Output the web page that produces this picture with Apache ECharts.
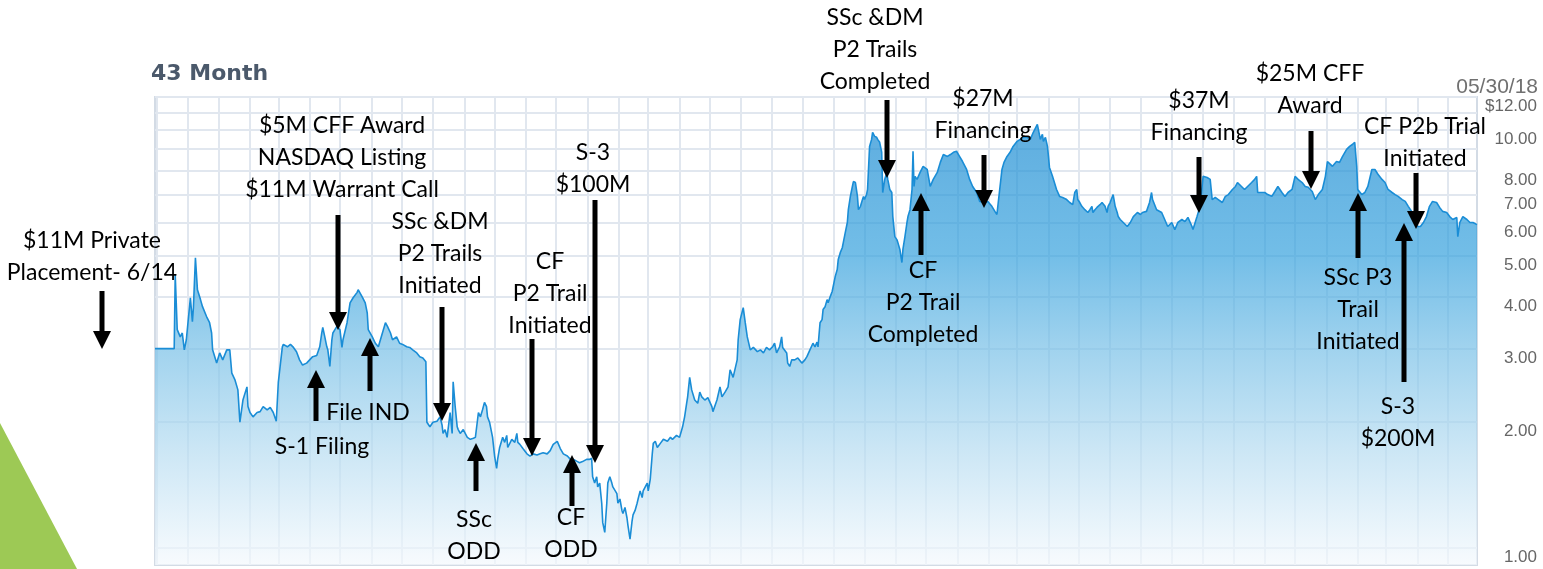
<!DOCTYPE html>
<html><head><meta charset="utf-8">
<script src="https://cdn.jsdelivr.net/npm/echarts@6/dist/echarts.min.js"></script>
<style>html,body{margin:0;padding:0;background:#fff}#c{width:1543px;height:569px}</style>
</head><body><div id="c"></div>
<script>
const chartTitle = '43 Month';
const endLabel = '05/30/18';
const startDate = Date.UTC(2014, 9, 30);
const endDate = Date.UTC(2018, 4, 30);

// trading-day offsets (days after startDate) and closing prices ($)
const dayOffsets = [0,10,19,20,22,25,27,29,31,35,37,38,40,42,45,47,51,54,56,57,61,64,67,71,74,76,79,82,84,87,91,92,94,97,101,104,107,111,114,117,120,122,126,127,131,134,137,140,143,146,150,153,156,160,163,165,166,168,170,171,173,175,176,178,180,183,185,186,190,193,196,200,201,205,208,210,211,215,218,221,225,228,230,233,235,239,242,245,249,252,255,259,262,265,268,
269,272,275,279,282,284,285,287,289,292,294,295,297,299,300,302,305,309,312,315,317,320,322,324,326,328,329,331,334,336,338,339,341,344,346,348,349,353,356,358,359,361,364,368,371,374,378,381,384,388,391,394,398,401,404,408,411,414,418,420,423,427,430,432,433,435,437,438,440,442,443,445,447,448,450,452,453,457,458,460,462,463,465,467,468,470,472,473,475,477,478,480,482,483,487,488,490,492,493,495,497,500,503,507,510,512,516,519,522,524,526,527,529,531,534,537,
539,541,544,547,551,552,556,559,561,564,567,569,572,576,577,579,582,584,586,589,592,596,599,602,605,608,611,613,615,618,620,621,625,626,628,630,633,636,640,643,645,648,651,653,655,656,
658,660,661,663,665,666,668,670,671,673,675,676,678,680,681,683,685,686,688,690,691,693,695,696,698,700,701,702,704,705,707,709,710,712,714,715,717,719,720,722,724,725,727,729,730,732,734,735,737,739,740,742,744,745,747,749,750,751,752,
754,757,760,764,767,770,774,777,780,784,787,790,793,796,799,803,806,809,813,816,821,824,828,831,833,835,838,840,843,846,849,853,856,859,863,866,869,873,874,876,878,879,881,883,884,885,888,892,895,898,902,905,908,910,912,913,915,917,920,923,925,927,928,930,932,935,937,938,940,942,943,945,948,950,952,953,955,958,962,965,968,972,975,977,981,984,986,987,991,996,999,1002,1006,1009,1012,1016,1019,1022,1026,1027,1031,1034,
1037,1041,1044,1046,1049,1052,1056,1059,1062,1066,1069,1071,1075,1078,1081,1085,1088,1090,1091,1095,1098,1101,1105,1108,1111,1115,1118,1121,1125,1128,1131,1135,1138,1141,1145,1148,1151,1155,1158,1160,1163,1165,1169,1172,1175,1179,1182,1185,1187,1189,1190,1194,1197,1200,1204,1207,1210,1214,1217,1220,1224,1227,1230,1234,1237,1240,1244,1245,1249,1252,1255,1258,1261,1264,1268,1271,1274,1278,1281,1284,1288,1289,1291,1294,1298,1301,1304,1308];

const prices = [3.00,3.00,3.00,4.51,3.33,3.20,3.27,2.98,3.15,3.97,3.48,3.76,4.95,4.15,3.93,3.78,3.58,3.46,3.27,2.98,2.77,2.93,2.82,2.98,2.98,2.62,2.53,2.39,2.00,2.26,2.43,2.18,2.11,2.06,2.11,2.12,2.18,2.14,2.17,2.11,2.01,2.49,3.03,3.07,3.03,3.07,3.02,2.95,2.82,2.74,2.77,2.82,2.87,2.89,3.03,3.27,3.37,3.20,3.03,2.98,2.72,3.15,3.27,3.33,3.39,3.33,3.02,3.15,3.46,3.86,3.97,4.09,4.15,3.99,3.86,3.65,3.33,3.20,3.09,3.03,3.27,3.46,3.39,3.27,3.15,3.20,3.09,3.07,3.03,3.02,2.98,2.93,2.87,2.85,2.79,
2.00,1.95,2.00,2.01,2.06,1.97,1.88,1.92,1.84,2.11,1.88,2.50,2.18,1.95,1.92,1.88,1.92,1.84,1.82,1.83,1.84,2.11,2.06,2.14,2.23,2.18,2.06,2.00,1.84,1.66,1.55,1.63,1.74,1.84,1.79,1.86,1.74,1.82,1.79,1.88,1.79,1.77,1.73,1.68,1.66,1.68,1.67,1.68,1.69,1.68,1.71,1.77,1.80,1.73,1.68,1.66,1.63,1.63,1.61,1.60,1.61,1.63,1.63,1.64,1.48,1.43,1.48,1.40,1.43,1.28,1.15,1.09,1.28,1.43,1.48,1.43,1.40,1.35,1.28,1.31,1.23,1.21,1.25,1.18,1.13,1.05,1.16,1.20,1.23,1.28,1.31,1.37,1.32,1.37,1.43,1.37,1.46,1.68,1.78,1.80,1.74,1.78,1.82,1.80,1.84,1.82,1.86,1.84,1.95,2.06,2.22,2.30,2.56,2.39,2.26,2.22,
2.36,2.30,2.26,2.29,2.18,2.12,2.26,2.43,2.30,2.36,2.43,2.67,2.56,2.82,3.15,3.52,3.76,3.46,3.20,2.98,3.02,2.95,2.98,2.93,3.02,2.98,3.03,3.09,2.93,3.03,3.20,3.02,2.93,2.77,2.72,2.82,2.82,2.85,2.77,2.82,2.87,2.98,3.09,3.03,3.11,3.03,
3.46,3.52,3.72,3.78,3.93,3.86,3.99,4.11,4.15,4.46,4.64,4.90,5.09,5.23,5.38,5.69,6.01,6.45,6.94,7.33,7.53,7.49,6.94,6.45,6.57,6.82,6.94,6.82,7.01,7.21,9.14,9.50,9.88,9.66,9.61,9.50,9.35,8.85,7.09,7.62,7.92,7.62,7.21,7.09,6.21,5.56,5.47,5.38,5.18,4.82,5.18,5.56,6.01,6.21,6.45,7.21,8.90,7.33,7.75,
7.62,7.92,8.19,8.05,7.33,7.62,7.92,8.37,8.74,8.65,8.74,8.85,8.90,8.65,8.41,8.05,7.62,7.33,7.09,6.75,6.71,6.75,6.57,6.39,6.28,6.94,8.05,8.37,8.65,8.85,9.14,9.40,9.50,9.61,9.61,9.50,9.88,10.32,10.04,9.50,9.77,9.40,9.61,9.14,8.65,8.14,7.75,7.21,6.94,6.90,6.82,6.71,6.63,7.09,7.21,6.82,6.71,6.57,6.45,6.35,6.45,6.57,6.35,6.45,6.53,6.63,6.71,6.75,6.57,6.35,6.57,6.71,7.01,6.57,6.35,6.21,6.11,6.01,5.88,6.01,6.21,6.35,6.28,6.35,6.39,6.71,7.09,6.82,6.45,6.35,6.11,5.88,6.01,5.78,6.01,6.11,6.04,6.18,5.88,5.78,6.21,6.57,
7.75,7.70,7.62,6.82,6.90,6.82,6.71,6.94,7.01,7.21,7.33,7.49,7.33,7.21,7.33,7.49,7.62,7.75,7.09,7.09,7.09,7.01,6.94,7.13,7.33,7.09,6.94,7.09,7.21,7.75,7.62,7.49,7.33,7.30,7.13,6.82,7.01,7.21,7.75,8.41,8.28,8.19,8.41,8.37,8.65,8.99,9.14,9.25,9.35,8.19,7.21,7.01,7.09,7.33,8.05,8.05,7.84,7.62,7.49,7.21,7.09,7.01,6.94,6.82,6.75,6.57,6.35,6.11,5.88,5.88,6.01,6.21,6.57,6.75,6.71,6.53,6.39,6.35,6.21,6.11,6.18,5.56,6.01,6.21,6.11,6.01,6.01,5.94];

const gridPrices = [1,2,3,4,5,6,7,8,9,10,11,12];
const labelPrices = [1,2,3,4,5,6,7,8,10,12];

const annotations = [
  {lines:['$11M Private','Placement- 6/14'], x:92, y:257, ax:102, tail:291, tip:349},
  {lines:['$5M CFF Award','NASDAQ Listing','$11M Warrant Call'], x:342, y:158, ax:338, tail:215, tip:330},
  {lines:['S-1 Filing'], x:322, y:447, ax:316, tail:421, tip:370},
  {lines:['File IND'], x:368, y:413, ax:370, tail:391, tip:338},
  {lines:['SSc &DM','P2 Trails','Initiated'], x:440, y:254, ax:442, tail:307, tip:421},
  {lines:['SSc','ODD'], x:474, y:536, ax:476, tail:491, tip:443},
  {lines:['CF','P2 Trail','Initiated'], x:550, y:294, ax:532, tail:339, tip:456},
  {lines:['S-3','$100M'], x:593, y:169, ax:595, tail:200, tip:463},
  {lines:['CF','ODD'], x:571, y:534, ax:572, tail:506, tip:455},
  {lines:['SSc &DM','P2 Trails','Completed'], x:875, y:50, ax:887, tail:100, tip:178},
  {lines:['CF','P2 Trail','Completed'], x:923, y:303, ax:921, tail:255, tip:193},
  {lines:['$27M','Financing'], x:983, y:115, ax:984, tail:155, tip:208},
  {lines:['$37M','Financing'], x:1199, y:117, ax:1199, tail:157, tip:213},
  {lines:['$25M CFF','Award'], x:1310, y:90, ax:1311, tail:131, tip:189},
  {lines:['CF P2b Trial','Initiated'], x:1425, y:143, ax:1416, tail:173, tip:229},
  {lines:['SSc P3','Trail','Initiated'], x:1358, y:310, ax:1358, tail:258, tip:193},
  {lines:['S-3','$200M'], x:1398, y:423, ax:1404, tail:382, tip:223}
];

const DAY = 86400000;
const seriesData = dayOffsets.map((d, i) => [startDate + d * DAY, prices[i]]);
const monthTicks = [];
for (let y = 2014, m = 10; Date.UTC(y, m, 1) <= endDate; m++) {
  if (m > 11) { m = 0; y++; }
  monthTicks.push(Date.UTC(y, m, 1));
}
const yMin = 0.9107, yMax = 12;
const lg = v => Math.log10(v);

const graphics = [
  {type:'polygon', shape:{points:[[0,423],[77,569],[0,569]]}, style:{fill:'#9dc955'}, z:1},
  {type:'text', left:151, top:63, style:{text:chartTitle, fontFamily:'DejaVu Sans', fontWeight:'bold', fontSize:22, fill:'#4b596b'}, z:5},
  {type:'text', right:5, top:77, style:{text:endLabel, fontFamily:'Liberation Sans', fontSize:21, fill:'#707070'}, z:5}
];
annotations.forEach(a => {
  graphics.push({type:'text', z:100, style:{text:a.lines.join('\n'), x:a.x, y:a.y, align:'center', verticalAlign:'middle',
    fontFamily:'Lato', fontSize:23, lineHeight:32, fill:'#000'}});
  const dir = a.tip > a.tail ? 1 : -1;
  graphics.push({type:'line', z:100, shape:{x1:a.ax, y1:a.tail, x2:a.ax, y2:a.tip - dir*15}, style:{stroke:'#000', lineWidth:5}});
  graphics.push({type:'polygon', z:100, shape:{points:[[a.ax-9, a.tip - dir*18],[a.ax+9, a.tip - dir*18],[a.ax, a.tip]]}, style:{fill:'#000'}});
});

const chart = echarts.init(document.getElementById('c'), null, {renderer:'canvas'});
chart.setOption({
  animation:false,
  useUTC:true,
  backgroundColor:'#fff',
  grid:{left:155, right:66, top:97, bottom:4, show:true, borderColor:'#d3dbe5', borderWidth:2, backgroundColor:'rgba(0,0,0,0)'},
  xAxis:{type:'time', min:startDate, max:endDate,
    axisLine:{show:false}, axisLabel:{show:false},
    axisTick:{show:false, customValues:monthTicks},
    splitLine:{show:true, lineStyle:{color:'#e1e7ef', width:2}}},
  yAxis:[
    {type:'log', logBase:10, min:yMin, max:yMax, show:false, position:'left'},
    {type:'value', min:lg(yMin), max:lg(yMax), position:'right',
      axisLine:{show:false},
      axisTick:{show:false, customValues:gridPrices.map(lg)},
      splitLine:{show:true, lineStyle:{color:'#e1e7ef', width:2}},
      axisLabel:{customValues:labelPrices.map(lg), margin:60, align:'right', verticalAlign:'top', padding:[1,0,0,0],
        fontFamily:'Liberation Sans', fontSize:17, color:'#666',
        formatter:v => { const p = Math.pow(10, v); return (Math.abs(p-12) < 0.01 ? '$' : '') + p.toFixed(2); }}}
  ],
  series:[{type:'line', yAxisIndex:0, data:seriesData, showSymbol:false, silent:true,
    lineStyle:{color:'#1a8dd6', width:1.6},
    areaStyle:{color:new echarts.graphic.LinearGradient(0,0,0,1,[
      {offset:0, color:'#1a8bd2'},{offset:0.29, color:'#35a1dd'},{offset:0.51, color:'#78c0e7'},
      {offset:0.74, color:'#b6dcf1'},{offset:1, color:'#f4f9fd'}])}, z:3}],
  graphic:graphics
});
</script></body></html>
